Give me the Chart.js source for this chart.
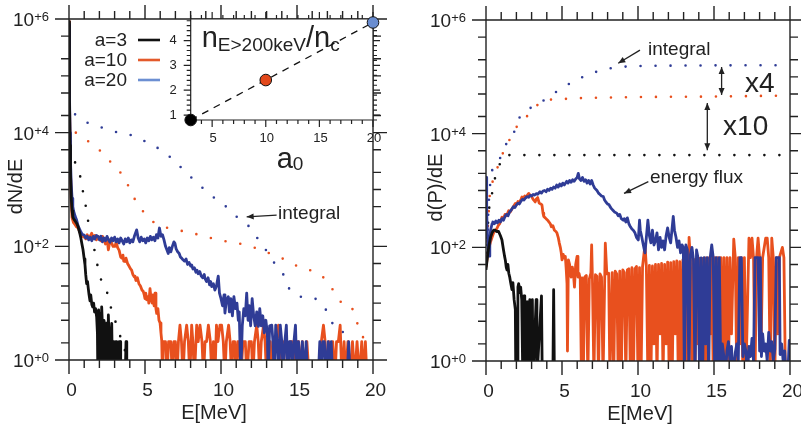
<!DOCTYPE html>
<html>
<head>
<meta charset="utf-8">
<script src="https://cdn.jsdelivr.net/npm/chart.js@4.4.1/dist/chart.umd.min.js"></script>
<style>
  body { margin: 0; background: #fff; }
  #wrap { position: relative; width: 801px; height: 431px; overflow: hidden; }
  canvas { position: absolute; top: 0; }
</style>
</head>
<body>
<div id="wrap">
  <canvas id="spec" width="400" height="431" style="left:0"></canvas>
  <canvas id="inset" width="400" height="431" style="left:0"></canvas>
  <canvas id="flux" width="401" height="431" style="left:400px"></canvas>
</div>
<script>
// ---- spectra dN/dE, pairs of [E (MeV), value] ----
const dndeA3 = [[0,9e5],[0.02,2e5],[0.04,4e4],[0.07,6e3],[0.1,1.8e3],[0.15,700],[0.2,420],[0.25,330],[0.32,300],[0.4,280],[0.5,255],[0.58,230],[0.65,195],[0.72,165],[0.78,140],[0.85,110],[0.92,88],[1.0,60],[1.05,48],[1.1,32],[1.16,22],[1.22,24],[1.27,18],[1.32,14],[1.38,11],[1.43,14],[1.5,9.5],[1.56,8.6],[1.62,10],[1.68,7],[1.75,8],[1.82,5.7],[1.87,3],[1.9,0.5],[1.95,7.6],[2.0,3],[2.05,6.6],[2.1,0.5],[2.15,8.6],[2.2,4],[2.25,0.5],[2.3,5],[2.37,3.9],[2.42,0.5],[2.5,4.5],[2.55,0.5],[2.59,6.2],[2.64,2.1],[2.7,0.5],[2.75,2.1],[2.81,4.4],[2.86,0.5],[2.95,2.1],[3.0,0.5],[3.08,2.1],[3.14,2.1],[3.19,0.5],[3.3,2.1],[3.36,2.1],[3.4,0.5],[3.7,0.5],[3.75,2.1],[3.8,0.5]];

const dndeA10 = [[0,9e5],[0.02,2e5],[0.04,4e4],[0.07,7e3],[0.1,2e3],[0.15,600],[0.2,320],[0.3,260],[0.4,240],[0.5,220],[0.61,210],[0.7,180],[0.8,160],[0.9,150],[1.0,145],[1.05,148],[1.1,135],[1.2,160],[1.3,140],[1.4,150],[1.49,170],[1.6,140],[1.7,155],[1.8,130],[1.9,150],[2.0,140],[2.1,125],[2.2,150],[2.3,130],[2.4,110],[2.5,140],[2.59,87],[2.7,130],[2.8,115],[2.9,100],[3.03,100],[3.1,120],[3.2,95],[3.3,85],[3.4,65],[3.47,62],[3.55,70],[3.6,55],[3.68,54],[3.75,62],[3.85,50],[3.95,45],[4.05,40],[4.12,38],[4.2,32],[4.3,29],[4.34,30],[4.4,25],[4.5,28],[4.6,22],[4.7,20],[4.8,17],[4.89,16],[4.95,14],[5.0,12],[5.05,15],[5.11,11.5],[5.2,13],[5.25,10],[5.33,18],[5.4,12],[5.47,10],[5.52,14],[5.6,9],[5.66,15],[5.72,8],[5.77,6.6],[5.85,8],[5.92,5],[5.99,4.5],[6.05,3],[6.1,2.2],[6.15,0.5],
  [6.2,2.1],[6.35,2.1],[6.45,0.5],[6.55,2.1],[6.7,2.1],[6.8,0.5],[6.9,2.1],[7.0,2.1],[7.1,0.5],[7.2,2.1],[7.3,4.1],[7.4,2.1],[7.5,0.5],[7.6,2.1],[7.74,4.1],[7.85,2.1],[7.95,0.5],[8.07,4.1],[8.15,2.1],[8.25,0.5],[8.4,4.1],[8.5,2.1],[8.62,4.1],[8.75,2.1],[8.85,0.5],[8.95,2.1],[9.05,2.1],[9.17,4.1],[9.3,2.1],[9.4,0.5],[9.5,2.1],[9.6,0.5],[9.7,4.1],[9.8,2.1],[9.93,4.1],[10.04,4.1],[10.15,2.1],[10.25,0.5],[10.35,2.1],[10.5,4.1],[10.6,2.1],[10.7,0.5],[10.8,2.1],[10.9,2.1],[11.0,0.5],[11.1,2.1],[11.2,2.1],[11.3,0.5],[11.45,2.1],[11.6,2.1],[11.7,0.5],[11.85,2.1],[12.0,2.1],[12.1,0.5],[12.2,2.1],[12.35,4.1],[12.45,2.1],[12.55,0.5],[12.65,2.1],[12.8,4.1],[12.9,2.1],[13.0,0.5],[13.1,2.1],[13.25,2.1],[13.35,0.5],[13.5,2.1],[13.65,2.1],[13.78,4.1],[13.9,2.1],[14.0,0.5],[14.15,2.1],[14.3,2.1],[14.4,0.5],[14.55,2.1],[14.7,2.1],[14.8,0.5],[14.95,2.1],[15.1,2.1],[15.2,0.5],[15.35,2.1],[15.5,0.5],[15.65,2.1],[15.8,0.5],[16.5,0.5],[16.6,2.1],[16.74,4.1],[16.85,2.1],[16.95,0.5],[17.1,2.1],[17.2,0.5],[17.35,2.1],[17.5,0.5],[17.6,2.1],[17.72,2.1],[17.84,4.1],[17.95,0.5],[18.1,2.1],[18.2,0.5],[18.35,2.1],[18.5,0.5],[18.65,2.1],[18.8,0.5],[18.95,2.1],[19.1,0.5],[19.26,2.1],[19.4,0.5],[19.5,2.1],[19.6,0.5]];

const dndeA20 = [[0,8e5],[0.02,2e5],[0.04,5e4],[0.07,1e4],[0.1,3e3],[0.15,1.2e3],[0.2,700],[0.25,500],[0.3,420],[0.4,340],[0.5,290],[0.6,230],[0.7,200],[0.8,175],[0.9,160],[1.0,158],[1.1,140],[1.2,150],[1.3,130],[1.4,145],[1.5,125],[1.6,150],[1.7,135],[1.8,155],[1.93,148],[2.0,130],[2.1,150],[2.2,120],[2.3,140],[2.4,125],[2.5,150],[2.6,130],[2.7,118],[2.8,140],[2.9,125],[3.0,145],[3.1,120],[3.2,135],[3.3,115],[3.4,140],[3.5,125],[3.6,110],[3.7,135],[3.8,120],[3.9,140],[4.0,115],[4.1,130],[4.2,120],[4.3,150],[4.45,195],[4.55,140],[4.65,120],[4.75,145],[4.85,125],[4.95,135],[5.05,115],[5.15,140],[5.25,125],[5.35,150],[5.45,130],[5.55,145],[5.65,125],[5.75,160],[5.85,140],[5.95,210],[6.05,150],[6.15,160],[6.25,130],[6.35,100],[6.45,85],[6.53,75],[6.6,95],[6.7,80],[6.8,100],[6.9,120],[6.97,113],[7.05,90],[7.15,80],[7.25,75],[7.33,65],[7.41,62],[7.5,58],[7.6,55],[7.7,60],[7.8,48],[7.9,52],[8.0,45],[8.07,47],[8.15,40],[8.25,42],[8.35,35],[8.42,38],[8.5,33],[8.6,36],[8.7,30],[8.8,28],[8.9,32],[8.95,27],[9.05,24],[9.15,28],[9.25,21],[9.32,24],[9.39,19.5],[9.5,22],[9.6,17],[9.7,20],[9.82,30],[9.9,15],[10.0,12],[10.1,9],[10.2,14],[10.26,6.7],[10.35,11],[10.48,13],[10.55,7],[10.65,12],[10.75,6],[10.85,13],[10.95,8],[11.05,10],[11.14,5],[11.2,7],[11.3,0.5],[11.4,4],[11.5,8],[11.6,6],[11.69,15],[11.78,5],[11.85,9],[11.95,4],[12.05,12],[12.15,6],[12.25,4],[12.35,7],[12.46,3.9],[12.55,8],[12.65,4],[12.75,6],[12.85,3],[12.95,5],[13.05,3],[13.1,0.5],[13.2,4],[13.34,4.1],[13.42,2.1],[13.5,0.5],[13.6,4.1],[13.7,2.1],[13.8,0.5],[13.9,4.1],[14.0,2.1],[14.1,0.5],[14.2,2.1],[14.3,4.1],[14.4,0.5],[14.5,2.1],[14.6,2.1],[14.7,0.5],[14.8,2.1],[14.9,4.1],[15.0,0.5],[15.1,2.1],[15.2,0.5],[15.35,2.1],[15.5,0.5],[15.6,2.1],[15.7,0.5],[16.4,0.5],[16.5,2.1],[16.6,0.5],[16.7,2.1],[16.8,2.1],[16.9,0.5],[17.05,2.1],[17.15,0.5],[17.25,2.1],[17.35,0.5],[18.3,0.5],[18.4,2.1],[18.5,0.5]];

// integral of dN/dE above E
const intA3 = [[0.4,3000],[0.6,2050],[0.8,1480],[0.9,980],[1.07,575],[1.21,330],[1.4,175],[1.67,87],[1.89,44],[2.15,24],[2.52,15],[2.74,8.7],[3.03,5],[3.29,2.95],[3.57,1.95],[3.75,1.2]];
const intA10 = [[0.45,1.0e4],[1.16,7400],[1.95,5100],[2.81,2900],[3.57,1700],[4.41,620],[5.18,330],[5.77,245],[6.93,200],[8.14,170],[9.3,141],[10.48,120],[11.69,105],[12.89,81],[13.99,62],[15.09,44],[16.4,33],[17.0,24],[17.5,15],[18.0,10],[18.5,9.3],[18.8,6],[19.1,3.5],[19.45,2.2]];
const intA20 = [[0.4,2.1e4],[1.0,1.6e4],[2.04,1.26e4],[3.36,9800],[4.45,8500],[5.22,6500],[6.2,4700],[7.08,2900],[8.07,1600],[8.95,980],[9.72,660],[10.59,440],[11.25,290],[11.8,230],[12.19,175],[12.46,130],[12.85,98],[13.11,71],[13.44,54],[13.77,41],[14.1,32],[14.54,17],[14.98,14],[15.48,12.6],[16.07,12.3],[16.5,10.5],[16.84,8.1],[17.17,5.8],[17.5,3.5],[18.1,3.0],[18.3,2.3]];

// ---- energy flux d(P)/dE ----
const fluxA3 = [[0,40],[0.1,70],[0.2,110],[0.3,150],[0.4,180],[0.5,200],[0.61,200],[0.7,190],[0.83,190],[0.95,160],[1.05,135],[1.1,110],[1.16,87],[1.22,70],[1.27,60],[1.33,45],[1.38,40],[1.44,50],[1.5,35],[1.56,30],[1.62,24],[1.71,18],[1.77,24],[1.85,12],[1.93,8],[1.96,0.5],[2.05,0.5],[2.1,20],[2.15,23],[2.22,16],[2.28,20],[2.35,12],[2.42,0.5],[2.5,14],[2.55,0.5],[2.65,11],[2.7,11],[2.75,0.5],[2.88,12],[2.92,0.5],[3.05,12],[3.1,0.5],[3.3,12],[3.35,0.5],[3.65,14],[3.7,0.5],[4.4,0.5],[4.45,18],[4.5,0.5]];

const fluxA10 = [[0,45],[0.1,70],[0.2,100],[0.3,125],[0.4,150],[0.5,180],[0.61,200],[0.7,210],[0.8,240],[0.9,260],[1.05,340],[1.15,320],[1.25,380],[1.35,360],[1.49,440],[1.6,420],[1.7,470],[1.8,520],[1.93,590],[2.0,560],[2.1,640],[2.2,620],[2.3,700],[2.37,770],[2.45,720],[2.55,800],[2.65,760],[2.75,850],[2.81,890],[2.9,820],[3.0,790],[3.1,700],[3.2,650],[3.24,630],[3.3,700],[3.4,750],[3.5,600],[3.6,580],[3.68,560],[3.75,400],[3.8,350],[3.9,330],[4.0,310],[4.1,290],[4.23,260],[4.3,230],[4.4,240],[4.5,200],[4.6,190],[4.67,178],[4.75,150],[4.82,120],[4.89,100],[4.95,80],[5.0,60],[5.08,75],[5.15,65],[5.22,69],[5.28,40],[5.33,23],[5.36,1.5],[5.42,60],[5.5,50],[5.6,30],[5.68,45],[5.75,35],[5.82,20],[5.9,50],[5.99,69],[6.05,30],[6.12,35],[6.2,28],[6.28,0.5],
  [6.32,29],[6.4,0.5],[6.5,30],[6.6,32],[6.7,0.5],[6.8,28],[6.9,35],[6.95,110],[7.0,30],[7.1,0.5],[7.2,33],[7.3,31],[7.4,0.5],[7.5,34],[7.6,30],[7.7,0.5],[7.85,118],[7.95,34],[8.07,35],[8.15,0.5],[8.3,36],[8.4,0.5],[8.5,38],[8.6,34],[8.7,0.5],[8.8,38],[8.9,0.5],[9.0,40],[9.1,36],[9.2,0.5],[9.3,40],[9.4,42],[9.5,0.5],[9.6,44],[9.7,0.5],[9.8,42],[9.9,46],[10.0,0.5],[10.1,44],[10.2,0.5],[10.3,46],[10.46,110],[10.55,46],[10.65,0.5],[10.75,48],[10.85,0.5],[10.95,47],[11.05,2],[11.15,50],[11.25,0.5],[11.35,50],[11.45,3],[11.55,52],[11.65,0.5],[11.75,50],[11.85,2],[11.95,55],[12.05,0.5],[12.15,54],[12.25,0.5],[12.35,56],[12.45,3],[12.55,58],[12.65,0.5],[12.75,56],[12.85,0.5],[12.95,60],[13.05,0.5],[13.15,60],[13.25,0.5],[13.36,150],[13.45,60],[13.55,0.5],[13.65,62],[13.75,0.5],[13.85,62],[13.95,2],[14.05,64],[14.15,0.5],[14.25,64],[14.35,0.5],[14.45,65],[14.55,0.5],[14.65,65],[14.75,3],[14.85,65],[14.95,0.5],[15.05,66],[15.15,0.5],[15.25,66],[15.35,2],[15.45,66],[15.55,0.5],[15.65,66],[15.75,0.5],[15.85,66],[15.95,0.5],[16.05,66],[16.15,3],[16.3,140],[16.4,66],[16.5,0.5],[16.6,66],[16.7,2],[16.8,66],[16.9,0.5],[17.0,66],[17.1,0.5],[17.3,145],[17.4,66],[17.5,145],[17.6,66],[17.7,0.5],[17.8,66],[17.9,145],[18.0,66],[18.1,2],[18.2,66],[18.4,145],[18.5,145],[18.6,66],[18.7,0.5],[18.8,145],[18.9,66],[19.0,0.5],[19.1,66],[19.2,3],[19.3,66],[19.5,100],[19.6,66],[19.7,0.5]];

const fluxA20 = [[0,1700],[0.03,900],[0.06,400],[0.1,150],[0.15,80],[0.2,70],[0.25,120],[0.3,200],[0.4,260],[0.45,280],[0.55,260],[0.65,290],[0.75,270],[0.85,300],[0.95,280],[1.05,320],[1.15,300],[1.25,350],[1.35,380],[1.45,360],[1.55,420],[1.65,450],[1.8,520],[1.9,500],[2.0,560],[2.1,600],[2.2,580],[2.3,650],[2.4,700],[2.5,680],[2.6,740],[2.68,780],[2.8,760],[2.9,820],[3.0,800],[3.1,850],[3.2,830],[3.3,880],[3.4,860],[3.55,950],[3.65,900],[3.75,980],[3.85,1000],[3.95,950],[4.05,1050],[4.15,1000],[4.25,1100],[4.35,1050],[4.45,1150],[4.55,1100],[4.65,1250],[4.75,1150],[4.85,1300],[4.95,1200],[5.05,1350],[5.15,1250],[5.31,1450],[5.4,1350],[5.5,1500],[5.6,1400],[5.7,1550],[5.8,1450],[5.9,1600],[6.0,1700],[6.07,2000],[6.15,1600],[6.25,1500],[6.35,1700],[6.45,1450],[6.55,1550],[6.65,1350],[6.75,1500],[6.85,1300],[6.95,1500],[7.05,1250],[7.15,1100],[7.3,1000],[7.4,900],[7.5,850],[7.6,800],[7.72,780],[7.8,680],[7.9,620],[8.0,580],[8.1,560],[8.16,520],[8.25,480],[8.35,450],[8.45,420],[8.6,400],[8.7,360],[8.8,380],[8.9,320],[9.03,300],[9.1,320],[9.2,280],[9.3,330],[9.4,260],[9.5,230],[9.6,210],[9.69,200],[9.8,180],[9.9,150],[10.02,135],[10.1,300],[10.15,200],[10.25,150],[10.35,110],[10.46,80],[10.55,150],[10.65,300],[10.75,160],[10.85,120],[10.95,200],[11.05,110],[11.15,130],[11.25,180],[11.35,90],[11.45,150],[11.55,100],[11.65,130],[11.75,90],[11.85,160],[11.95,220],[12.05,150],[12.15,120],[12.32,350],[12.4,200],[12.5,150],[12.6,100],[12.7,130],[12.8,80],[12.9,110],[12.98,100],[13.05,0.5],[13.15,110],[13.25,90],[13.35,0.5],[13.45,75],[13.55,100],[13.65,60],[13.75,0.5],[13.85,90],[13.95,65],[14.05,0.5],[14.15,65],[14.25,0.5],[14.35,66],[14.45,2],[14.55,66],[14.65,0.5],[14.75,66],[14.85,110],[14.95,66],[15.05,0.5],[15.15,66],[15.25,0.5],[15.35,66],[15.45,0.5],[15.55,2],[15.65,1.2],[15.75,0.5],[15.85,1.5],[15.95,2.2],[16.05,1],[16.15,1.8],[16.25,0.5],[16.4,1.4],[16.5,2],[16.6,1],[16.7,66],[16.8,66],[16.9,1.2],[17.0,2],[17.1,1.5],[17.2,0.5],[17.3,1.8],[17.4,1.2],[17.5,2.5],[17.6,1],[17.7,66],[17.8,66],[17.9,66],[18.0,1.5],[18.05,66],[18.12,1.2],[18.2,3],[18.3,1.5],[18.4,2],[18.5,1],[18.6,3.2],[18.7,1.5],[18.8,2.2],[18.9,1],[19.0,1.6],[19.1,66],[19.2,66],[19.3,66],[19.35,1.3],[19.45,2],[19.55,1],[19.65,1.5],[19.75,0.5],[19.85,0.5],[19.95,2.3],[20.0,2.3]];

// integral of the energy flux
const pintA3 = [[0.05,80],[0.1,200],[0.18,350],[0.22,520],[0.35,780],[0.5,1180],[0.61,1740],[0.8,2500],[1.05,3470],[1.16,4000],[1.4,4200],[20,4200]];
const pintA10 = [[0.05,70],[0.15,300],[0.26,890],[0.44,1450],[0.7,2300],[1.03,4000],[1.36,6500],[1.69,8900],[2.02,1.32e4],[2.57,1.86e4],[3.33,3.1e4],[4.0,3.9e4],[4.54,4.0e4],[6,4.2e4],[10,4.4e4],[15,4.5e4],[20,4.7e4]];
const pintA20 = [[0.05,60],[0.15,400],[0.3,1500],[0.6,3000],[0.92,3700],[1.36,6800],[1.8,1.0e4],[2.24,2.0e4],[2.89,2.8e4],[3.33,3.2e4],[4.0,4.2e4],[4.98,6.3e4],[6.07,9.1e4],[6.95,1.15e5],[7.83,1.35e5],[8.49,1.45e5],[10,1.55e5],[20,1.6e5]];

// ---- inset: hot electron density vs a0 ----
const a0Values = [3, 10, 20];
const nHotValues = [0.8, 2.41, 4.73];

// ---- axes ----
const energyTicks = [0,1,2,3,4,5,6,7,8,9,10,11,12,13,14,15,16,17,18,19,20];
const energyLabels = [0, 5, 10, 15, 20];
const decadeLabels = [0, 2, 4, 6];
const legendLabels = ['a=3', 'a=10', 'a=20'];
const insetXLabels = [5, 10, 15, 20];
const insetYLabels = [1, 2, 3, 4];

// annotations, in data units of each panel
const specNotes = [{ text: 'integral', e: 13.75, v: 300, size: 19 }];
const specArrows = [{ e1: 13.66, v1: 355, e2: 11.69, v2: 331, both: false }];
const fluxNotes = [
  { text: 'integral', e: 10.66, v: 2.47e5, size: 19 },
  { text: 'x4', e: 17.04, v: 5.4e4, size: 28 },
  { text: 'x10', e: 15.6, v: 9500, size: 28 },
  { text: 'energy flux', e: 10.79, v: 1350, size: 19 }
];
const fluxArrows = [
  { e1: 10.13, v1: 2.95e5, e2: 8.7, v2: 1.73e5, both: false },
  { e1: 10.68, v1: 1430, e2: 9.08, v2: 890, both: false },
  { e1: 15.5, v1: 1.49e5, e2: 15.5, v2: 4.8e4, both: true },
  { e1: 14.56, v1: 3.47e4, e2: 14.56, v2: 5.1e3, both: true }
];

const INK = '#222';
const FONT = '"Liberation Sans", Arial, Helvetica, sans-serif';
const BLACK = '#111111', RED = '#e8501e', BLUE = '#2f3c96';
const legendColors = ['#111111', '#e35a2b', '#6c8fd2'];
const dotColors = ['#000000', '#e2481b', '#6a8dd0'];

const logTicks = [];
for (let p = 0; p <= 6; p++) {
  for (const m of [1, 2, 5]) {
    const v = m * Math.pow(10, p);
    if (v <= 1e6) logTicks.push(v);
  }
}

function pts(pairs) {
  return pairs.map(([e, v]) => ({ x: e, y: v }));
}

function solid(pairs, color, order) {
  return {
    data: pts(pairs), borderColor: color, borderWidth: 2.8,
    borderJoinStyle: 'round', pointRadius: 0, tension: 0, order, clip: 0
  };
}

function dotted(pairs, color) {
  return {
    data: pts(pairs), borderColor: color, borderWidth: 2.6,
    borderDash: [0, 15], borderCapStyle: 'round', pointRadius: 0,
    cubicInterpolationMode: 'monotone', order: 5, clip: 0
  };
}

function arrowHead(ctx, x1, y1, x2, y2) {
  const ang = Math.atan2(y2 - y1, x2 - x1), L = 7, W = 3;
  ctx.beginPath();
  ctx.moveTo(x2, y2);
  ctx.lineTo(x2 - L * Math.cos(ang) + W * Math.sin(ang), y2 - L * Math.sin(ang) - W * Math.cos(ang));
  ctx.lineTo(x2 - L * Math.cos(ang) - W * Math.sin(ang), y2 - L * Math.sin(ang) + W * Math.cos(ang));
  ctx.closePath();
  ctx.fill();
}

// frame with outward ticks on all four sides, tick labels, titles, notes
function panelFrame(cfg) {
  return {
    id: 'panelFrame',
    afterDatasetsDraw(chart) {
      const { ctx, chartArea: a, scales: { x, y } } = chart;
      ctx.save();
      ctx.strokeStyle = INK;
      ctx.fillStyle = INK;
      ctx.lineWidth = 1.4;
      ctx.beginPath();
      ctx.rect(a.left, a.top, a.right - a.left, a.bottom - a.top);
      energyTicks.forEach(e => {
        const px = x.getPixelForValue(e);
        const len = e % 5 === 0 ? 14 : 8;
        ctx.moveTo(px, a.bottom); ctx.lineTo(px, a.bottom + len);
        ctx.moveTo(px, a.top); ctx.lineTo(px, a.top - len);
      });
      logTicks.forEach(v => {
        const py = y.getPixelForValue(v);
        const major = decadeLabels.some(p => Math.pow(10, p) === v);
        const len = major ? 14 : 8;
        ctx.moveTo(a.left, py); ctx.lineTo(a.left - len, py);
        ctx.moveTo(a.right, py); ctx.lineTo(a.right + len, py);
      });
      ctx.stroke();

      // x tick labels
      ctx.font = '19px ' + FONT;
      ctx.textAlign = 'center';
      ctx.textBaseline = 'alphabetic';
      energyLabels.forEach(e => {
        ctx.fillText(String(e), x.getPixelForValue(e) + 2.5, a.bottom + 35.5);
      });

      // y tick labels 10^+n
      decadeLabels.forEach(p => {
        const py = y.getPixelForValue(Math.pow(10, p));
        const right = a.left - 20;
        ctx.textAlign = 'left';
        ctx.font = '13px ' + FONT;
        const sup = '+' + p;
        const ws = ctx.measureText(sup).width;
        ctx.fillText(sup, right - ws, py + 2);
        ctx.font = '19px ' + FONT;
        const wb = ctx.measureText('10').width;
        ctx.fillText('10', right - ws - wb, py + 7);
      });

      // axis titles
      ctx.font = '20px ' + FONT;
      ctx.textAlign = 'center';
      ctx.textBaseline = 'middle';
      ctx.fillText('E[MeV]', (a.left + a.right) / 2 + cfg.xTitleShift, a.bottom + 53);
      ctx.save();
      ctx.translate(a.left - cfg.yTitleGap, (a.top + a.bottom) / 2 - 3);
      ctx.rotate(-Math.PI / 2);
      ctx.fillText(cfg.yTitle, 0, 0);
      ctx.restore();

      // notes and arrows
      ctx.textAlign = 'left';
      ctx.textBaseline = 'alphabetic';
      cfg.notes.forEach(n => {
        ctx.font = n.size + 'px ' + FONT;
        ctx.fillText(n.text, x.getPixelForValue(n.e), y.getPixelForValue(n.v));
      });
      ctx.lineWidth = 1.3;
      cfg.arrows.forEach(r => {
        const x1 = x.getPixelForValue(r.e1), y1 = y.getPixelForValue(r.v1);
        const x2 = x.getPixelForValue(r.e2), y2 = y.getPixelForValue(r.v2);
        ctx.beginPath(); ctx.moveTo(x1, y1); ctx.lineTo(x2, y2); ctx.stroke();
        arrowHead(ctx, x1, y1, x2, y2);
        if (r.both) arrowHead(ctx, x2, y2, x1, y1);
      });

      // legend
      if (cfg.legend) {
        ctx.font = '19px ' + FONT;
        ctx.textAlign = 'right';
        ctx.textBaseline = 'middle';
        ctx.lineWidth = 2.6;
        legendLabels.forEach((lab, i) => {
          const ly = a.top + 21 + i * 20;
          ctx.fillStyle = INK;
          ctx.fillText(lab, a.left + 58, ly + 1);
          ctx.strokeStyle = legendColors[i];
          ctx.beginPath();
          ctx.moveTo(a.left + 69, ly); ctx.lineTo(a.left + 91, ly);
          ctx.stroke();
        });
      }
      ctx.restore();
    }
  };
}

function baseOptions(padding) {
  return {
    responsive: false,
    animation: false,
    events: [],
    layout: { padding },
    scales: {
      x: { type: 'linear', min: 0, max: 20, display: false },
      y: { type: 'logarithmic', min: 1, max: 1e6, display: false }
    },
    plugins: { legend: { display: false }, tooltip: { enabled: false } }
  };
}

new Chart(document.getElementById('spec'), {
  type: 'line',
  data: {
    datasets: [
      solid(dndeA3, BLACK, 0),
      solid(dndeA20, BLUE, 1),
      solid(dndeA10, RED, 2),
      dotted(intA3, BLACK),
      dotted(intA10, RED),
      dotted(intA20, BLUE)
    ]
  },
  options: baseOptions({ left: 69, right: 27, top: 19, bottom: 71 }),
  plugins: [panelFrame({ yTitle: 'dN/dE', yTitleGap: 52.5, xTitleShift: -7, notes: specNotes, arrows: specArrows, legend: true })]
});

new Chart(document.getElementById('flux'), {
  type: 'line',
  data: {
    datasets: [
      solid(fluxA3, BLACK, 0),
      solid(fluxA20, BLUE, 1),
      solid(fluxA10, RED, 2),
      dotted(pintA3, BLACK),
      dotted(pintA10, RED),
      dotted(pintA20, BLUE)
    ]
  },
  options: baseOptions({ left: 86, right: 11, top: 20, bottom: 70 }),
  plugins: [panelFrame({ yTitle: 'd(P)/dE', yTitleGap: 50, xTitleShift: 2, notes: fluxNotes, arrows: fluxArrows, legend: false })]
});

// inset frame: white box, outward ticks, labels, title
const insetFrame = {
  id: 'insetFrame',
  beforeDatasetsDraw(chart) {
    const { ctx, chartArea: a, scales: { x, y } } = chart;
    ctx.save();
    ctx.fillStyle = '#fff';
    ctx.fillRect(a.left, a.top, a.right - a.left, a.bottom - a.top);
    ctx.strokeStyle = INK;
    ctx.lineWidth = 1.2;
    ctx.beginPath();
    ctx.rect(a.left, a.top, a.right - a.left, a.bottom - a.top);
    for (let v = 3; v <= 20; v++) {
      const px = x.getPixelForValue(v);
      const len = v % 5 === 0 ? 7 : 4;
      ctx.moveTo(px, a.bottom); ctx.lineTo(px, a.bottom + len);
      ctx.moveTo(px, a.top); ctx.lineTo(px, a.top - len);
    }
    for (let k = 4; k <= 24; k++) {
      const py = y.getPixelForValue(k / 5);
      const len = k % 5 === 0 ? 7 : 4;
      ctx.moveTo(a.left, py); ctx.lineTo(a.left - len, py);
      ctx.moveTo(a.right, py); ctx.lineTo(a.right + len, py);
    }
    ctx.stroke();

    ctx.fillStyle = INK;
    ctx.font = '13px ' + FONT;
    ctx.textAlign = 'center';
    ctx.textBaseline = 'alphabetic';
    insetXLabels.forEach(v => ctx.fillText(String(v), x.getPixelForValue(v) + 1, a.bottom + 22));
    ctx.textAlign = 'right';
    ctx.textBaseline = 'middle';
    insetYLabels.forEach(v => ctx.fillText(String(v), a.left - 14, y.getPixelForValue(v)));

    // n_{E>200keV}/n_c
    ctx.textAlign = 'left';
    ctx.textBaseline = 'alphabetic';
    let tx = a.left + 11;
    const by = a.top + 28;
    const parts = [['n', 29, 0], ['E>200keV', 19, 3.5], ['/n', 29, 0], ['c', 19, 3.5]];
    parts.forEach(([s, size, dy]) => {
      ctx.font = size + 'px ' + FONT;
      ctx.fillText(s, tx, by + dy);
      tx += ctx.measureText(s).width;
    });

    // a_0
    ctx.font = '29px ' + FONT;
    const ax = a.left + 86;
    ctx.fillText('a', ax, a.bottom + 48);
    const wa = ctx.measureText('a').width;
    ctx.font = '19px ' + FONT;
    ctx.fillText('0', ax + wa, a.bottom + 50);
    ctx.restore();
  }
};

new Chart(document.getElementById('inset'), {
  type: 'line',
  data: {
    datasets: [{
      data: a0Values.map((a, i) => ({ x: a, y: nHotValues[i] })),
      borderColor: '#111', borderWidth: 1.3, borderDash: [7, 6],
      pointRadius: 5.8, pointBackgroundColor: dotColors,
      pointBorderColor: '#111', pointBorderWidth: 1, clip: false
    }]
  },
  options: {
    responsive: false,
    animation: false,
    events: [],
    layout: { padding: { left: 190.7, right: 27, top: 19, bottom: 311 } },
    scales: {
      x: { type: 'linear', min: 3, max: 20, display: false },
      y: { type: 'linear', min: 0.8, max: 4.87, display: false }
    },
    plugins: { legend: { display: false }, tooltip: { enabled: false } }
  },
  plugins: [insetFrame]
});
</script>
</body>
</html>
